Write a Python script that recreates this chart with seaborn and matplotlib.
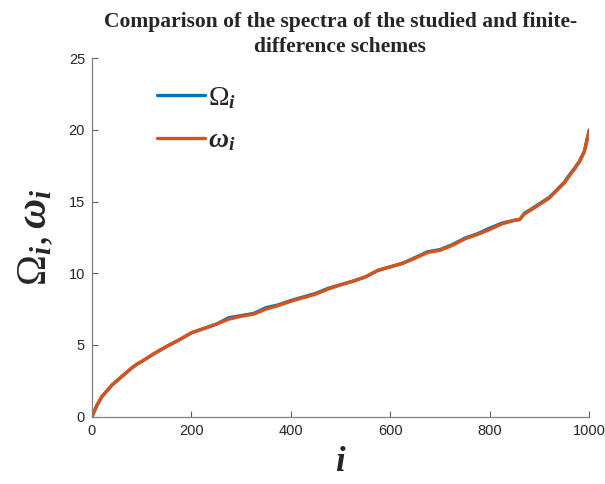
import numpy as np
import pandas as pd
import matplotlib
matplotlib.use("Agg")
import matplotlib.pyplot as plt
import seaborn as sns

# values
idx = [0, 10, 20, 30, 40, 50, 60, 70, 80, 90, 100, 125, 150, 175, 200, 225, 250, 275,
       300, 325, 350, 375, 400, 425, 450, 475, 500, 525, 550, 575, 600, 625, 650, 675,
       700, 725, 750, 775, 800, 825, 850, 860, 870, 880, 900, 920, 940, 950, 960, 970,
       980, 990, 1000]
Omega = [0, 0.8, 1.4, 1.8, 2.2, 2.5, 2.8, 3.1, 3.4, 3.65, 3.85, 4.4, 4.9, 5.35, 5.85,
         6.15, 6.45, 6.9, 7.05, 7.2, 7.6, 7.8, 8.1, 8.35, 8.6, 8.95, 9.2, 9.45, 9.75,
         10.2, 10.45, 10.7, 11.1, 11.5, 11.65, 12.0, 12.45, 12.75, 13.15, 13.5, 13.7,
         13.75, 14.2, 14.4, 14.85, 15.3, 16.0, 16.35, 16.85, 17.3, 17.8, 18.5, 20.0]
omega = [0, 0.8, 1.4, 1.8, 2.2, 2.5, 2.8, 3.1, 3.4, 3.65, 3.85, 4.4, 4.9, 5.35, 5.85,
         6.15, 6.45, 6.8, 7.0, 7.15, 7.5, 7.75, 8.05, 8.3, 8.55, 8.9, 9.2, 9.45, 9.75,
         10.2, 10.45, 10.7, 11.05, 11.45, 11.6, 11.95, 12.4, 12.7, 13.05, 13.45, 13.7,
         13.75, 14.15, 14.35, 14.8, 15.25, 15.95, 16.3, 16.8, 17.25, 17.75, 18.45, 19.95]
title_lines = ['Comparison of the spectra of the studied and finite-', 'difference schemes']

sns.set_style("ticks")
plt.rcParams['font.family'] = ['Liberation Sans', 'DejaVu Sans']
plt.rcParams['mathtext.fontset'] = 'custom'
plt.rcParams['mathtext.rm'] = 'Liberation Serif'
plt.rcParams['mathtext.it'] = 'Liberation Serif:italic:bold'
plt.rcParams['mathtext.bf'] = 'Liberation Serif:bold'

df = pd.DataFrame({'i': idx, 'Omega': Omega, 'omega': omega})

fig = plt.figure(figsize=(6.05, 4.84), dpi=100)
ax = fig.add_axes([0.152, 0.139, 0.822, 0.741])

sns.lineplot(data=df, x='i', y='Omega', ax=ax, color='#0072BD', lw=2.4,
             label=r'$\Omega_i$')
sns.lineplot(data=df, x='i', y='omega', ax=ax, color='#D95319', lw=2.4,
             label=r'$\omega_i$')

ax.set_xlim(0, 1000)
ax.set_ylim(0, 25)
ax.set_xticks([0, 200, 400, 600, 800, 1000])
ax.set_yticks([0, 5, 10, 15, 20, 25])
ax.tick_params(direction='in', length=4, width=0.8, color='#606060',
               labelcolor='#262626', labelsize=10.5, pad=5)
sns.despine(ax=ax)
for s in ['left', 'bottom']:
    ax.spines[s].set_color('#808080')
    ax.spines[s].set_linewidth(0.9)

ax.set_xlabel(r'$i$', fontsize=25, labelpad=5)
ax.set_ylabel(r'$\Omega_i, \omega_i$', fontsize=30, labelpad=10)

# title, two lines as in the reference
fig.text(0.5625, 0.944, title_lines[0], ha='center', va='baseline', fontsize=15.5,
         fontweight='bold', family='Liberation Serif')
fig.text(0.5625, 0.893, title_lines[1], ha='center', va='baseline', fontsize=15.5,
         fontweight='bold', family='Liberation Serif')

leg = ax.legend(loc='upper left', bbox_to_anchor=(0.08, 0.995), frameon=False,
                fontsize=20, handlelength=1.75, handletextpad=0.1, labelspacing=0.6)

fig.savefig('out.png', dpi=100)
